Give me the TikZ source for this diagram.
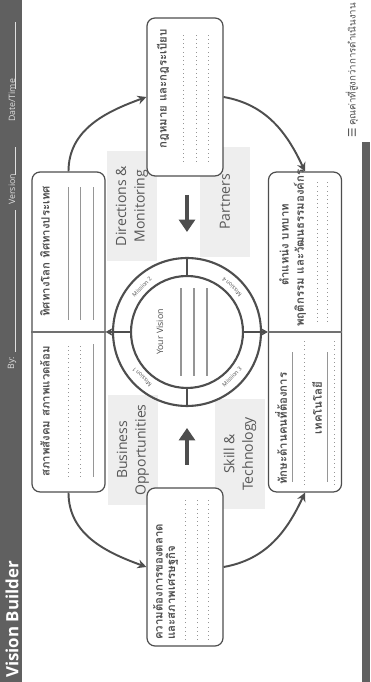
\documentclass[tikz,border=0pt]{standalone}
\usepackage{fontspec}
\setmainfont{Open Sans}
\newfontfamily\thaifont[Script=Thai]{Loma}
\newfontfamily\symfont{DejaVu Sans}
\usetikzlibrary{arrows.meta}

\definecolor{bargray}{RGB}{96,96,96}
\definecolor{ink}{RGB}{78,78,78}
\definecolor{labelgray}{RGB}{88,88,88}
\definecolor{tagfill}{RGB}{238,238,238}
\definecolor{rulegray}{RGB}{150,150,150}

\tikzset{
  panel/.style={draw=ink, line width=0.7pt, rounded corners=0.16cm, fill=white,
    minimum width=6.4cm, minimum height=1.46cm},
  sidepanel/.style={panel, minimum width=3.16cm, minimum height=1.52cm},
  tag/.style={fill=tagfill, text=labelgray, align=center,
    font=\fontsize{8}{10.5}\selectfont, minimum width=2.2cm, minimum height=1cm},
  thaihead/.style={font=\thaifont\bfseries\fontsize{6.5}{8}\selectfont, text=ink, inner sep=0pt},
  fieldtext/.style={font=\fontsize{5}{6}\selectfont, text=white!80!bargray, inner sep=0pt},
  flow/.style={draw=ink, line width=1.1pt, -{Stealth[length=5pt,width=5pt]}},
  spoke/.style={draw=ink, line width=0.9pt},
  push/.style={draw=ink, line width=2.8pt, -{Triangle[length=7pt,width=9pt]}},
  writeline/.style={draw=rulegray, line width=0.4pt},
  dotline/.style={writeline, dotted},
  mission/.style={font=\fontsize{3.2}{4}\selectfont, text=ink, inner sep=0pt}
}

\begin{document}
\begin{tikzpicture}[x=0.02cm, y=0.02cm]
\fill[white] (-370,0) rectangle (0,682);
\useasboundingbox (-370,0) rectangle (0,682);
\begin{scope}[rotate=90, transform shape]
  % header and footer bars
  \fill[bargray] (0,348) rectangle (682,370);
  \node[anchor=west, text=white, font=\bfseries\fontsize{9.6}{11}\selectfont, inner sep=0pt] (title) at (4,358) {Vision Builder};
  \node[fieldtext, anchor=west] (by) at (312,358) {By:};
  \draw[white!80!bargray, line width=0.4pt] (330,355) -- (472,355);
  \node[fieldtext, anchor=west] (version) at (477,358) {Version};
  \draw[white!80!bargray, line width=0.4pt] (507,355) -- (535,355);
  \node[fieldtext, anchor=west] (date) at (560,358) {Date/Time};
  \draw[white!80!bargray, line width=0.4pt] (593,355) -- (660,355);

  \fill[bargray] (0,0) rectangle (540,8);
  \node[anchor=west, font=\thaifont\fontsize{5.5}{6}\selectfont, text=ink, inner sep=0pt] (motto) at (556,18) {คุณค่าที่สูงกว่าการดำเนินงาน};
  \node[anchor=east, font=\symfont\fontsize{6}{6}\selectfont, text=ink, inner sep=1pt] (menu) at (motto.west) {☰};

  % grey labels round the circle
  \node[tag] (biz) at (232,237) {Business\\Opportunities};
  \node[tag] (dir) at (476,238) {Directions \&\\Monitoring};
  \node[tag] (skill) at (228,130) {Skill \&\\Technology};
  \node[tag] (part) at (480,145) {Partners};

  % the four panels
  \node[panel] (top) at (350,301.5) {};
  \node[panel] (bottom) at (350,65) {};
  \node[sidepanel] (market) at (115,185) {};
  \node[sidepanel] (law) at (585,185) {};
  \draw[ink!80, line width=0.6pt] (top.north) -- (top.south);
  \draw[ink!80, line width=0.6pt] (bottom.north) -- (bottom.south);

  % top panel
  \node[thaihead, anchor=west] (society) at (205,325) {สภาพสังคม สภาพแวดล้อม};
  \node[thaihead, anchor=west] (world) at (365,325) {ทิศทางโลก ทิศทางประเทศ};
  \foreach \y in {302,290}
    \draw[dotline] (205,\y) -- (338,\y);
  \draw[writeline] (205,277) -- (338,277);
  \foreach \y in {302,290,277}
    \draw[writeline] (362,\y) -- (495,\y);

  % bottom panel
  \node[thaihead, anchor=west] (skills) at (197,89) {ทักษะด้านคนที่ต้องการ};
  \draw[writeline] (200,78) -- (330,78);
  \draw[dotline] (197,66) -- (343,66);
  \node[thaihead] (tech) at (274,53) {เทคโนโลยี};
  \draw[writeline] (200,43) -- (330,43);
  \draw[dotline] (197,36) -- (343,36);
  \node[thaihead] (roles) at (437,86) {ตำแหน่ง บทบาท};
  \node[thaihead] (culture) at (434,70) {พฤติกรรม และวัฒนธรรมองค์กร};
  \draw[dotline] (360,53) -- (500,53);
  \draw[dotline] (360,43) -- (500,43);

  % side panels
  \node[thaihead, anchor=west] (demand) at (42,212) {ความต้องการของตลาด};
  \node[thaihead, anchor=west] (economy) at (42,198) {และสภาพเศรษฐกิจ};
  \foreach \y in {185,173,162}
    \draw[dotline] (42,\y) -- (185,\y);
  \node[thaihead] (legal) at (593,207) {กฎหมาย และกฎระเบียบ};
  \foreach \y in {187,174,162}
    \draw[dotline] (520,\y) -- (650,\y);

  % cycle between the panels
  \path (top.east) edge[flow, out=0, in=110] (law.north);
  \path (law.south) edge[flow, out=-100, in=25] (bottom.east);
  \path (top.west) edge[flow, out=180, in=70] (market.north);
  \path (market.south) edge[flow, out=-80, in=155] (bottom.west);

  % vision circle
  \node[circle, draw=ink, line width=1.2pt, minimum size=2.96cm] (ring) at (350,183) {};
  \node[circle, draw=ink, line width=1.2pt, minimum size=2.24cm] (vision) at (350,183) {};
  \draw[spoke] (vision.east) -- (ring.east);
  \draw[spoke] (vision.west) -- (ring.west);
  \path (vision.north) edge[spoke, -{Stealth[length=4pt,width=4.5pt]}] (top.south);
  \path (vision.south) edge[spoke, -{Stealth[length=4pt,width=4.5pt]}] (bottom.north);

  \node[font=\fontsize{5}{6}\selectfont, text=ink] (yours) at (350,210) {Your Vision};
  \foreach \y in {189,176,163}
    \draw[ink!60, line width=0.8pt] (306,\y) -- (394,\y);

  \node[mission, rotate=45] (m1) at (305,228) {Mission 1};
  \node[mission, rotate=-45] (m2) at (395,228) {Mission 2};
  \node[mission, rotate=-45] (m3) at (305,138) {Mission 3};
  \node[mission, rotate=45] (m4) at (395,138) {Mission 4};

  % inward arrows
  \coordinate (westfrom) at (217,183);
  \coordinate (westto) at (254,183);
  \coordinate (eastfrom) at (487,183);
  \coordinate (eastto) at (450,183);
  \draw[push] (westfrom) -- (westto);
  \draw[push] (eastfrom) -- (eastto);
\end{scope}
\end{tikzpicture}
\end{document}
